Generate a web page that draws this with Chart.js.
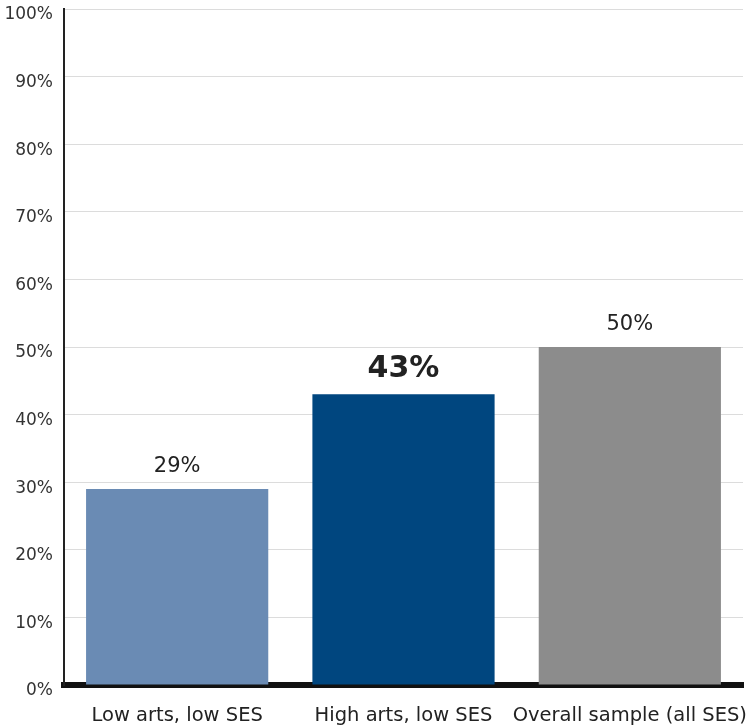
<!DOCTYPE html>
<html>
<head>
<meta charset="utf-8">
<script src="https://cdn.jsdelivr.net/npm/chart.js@4"></script>
<style>
    html, body { margin: 0; padding: 0; background: #fff; }
    #wrap { width: 747px; height: 726px; }
</style>
</head>
<body>
<div id="wrap"><canvas id="chart"></canvas></div>
<script>
// --- chart data ---
const categories = ['Low arts, low SES', 'High arts, low SES', 'Overall sample (all SES)'];
const values = [29, 43, 50];
const barColors = ['#6a8bb4', '#00467f', '#8c8c8c'];
const yTicks = [0, 10, 20, 30, 40, 50, 60, 70, 80, 90, 100];
const highlightIndex = 1;

const fontFamily = '"DejaVu Sans", sans-serif';

// draws the percentage above each bar
const barLabels = {
    id: 'barLabels',
    afterDatasetsDraw(chart) {
        const ctx = chart.ctx;
        const meta = chart.getDatasetMeta(0);
        ctx.save();
        ctx.textAlign = 'center';
        ctx.textBaseline = 'middle';
        ctx.fillStyle = '#222';
        meta.data.forEach((bar, i) => {
            const bold = i === highlightIndex;
            ctx.font = (bold ? 'bold 30px ' : '21px ') + fontFamily;
            ctx.fillText(values[i] + '%', bar.x, bar.y - (bold ? 25 : 22));
        });
        ctx.restore();
    }
};

new Chart(document.getElementById('chart').getContext('2d'), {
    type: 'bar',
    data: {
        labels: categories,
        datasets: [{
            data: values,
            backgroundColor: barColors,
            borderWidth: 0,
            barPercentage: 0.805,
            categoryPercentage: 1
        }]
    },
    options: {
        responsive: true,
        maintainAspectRatio: false,
        animation: false,
        layout: { padding: { left: 0, right: 4, top: 9, bottom: 0 } },
        plugins: {
            legend: { display: false },
            tooltip: { enabled: false }
        },
        scales: {
            x: {
                grid: { display: false, drawTicks: false },
                border: { display: true, color: '#111', width: 6 },
                ticks: {
                    color: '#222',
                    padding: 19,
                    maxRotation: 0,
                    autoSkip: false,
                    font: { family: fontFamily, size: 19.5 }
                },
                afterFit(scale) {
                    scale.height = 41;
                    scale.paddingLeft = 0;
                    scale.paddingRight = 0;
                }
            },
            y: {
                min: 0,
                max: 100,
                afterBuildTicks(scale) {
                    scale.ticks = yTicks.map(v => ({ value: v }));
                },
                grid: { color: '#dcdcdc', lineWidth: 1, drawTicks: false },
                border: { display: true, color: '#222', width: 2 },
                ticks: {
                    color: '#333',
                    padding: 11,
                    labelOffset: 6,
                    font: { family: fontFamily, size: 17 },
                    callback: v => v + '%'
                },
                afterFit(scale) {
                    scale.width = 64;
                    scale.paddingTop = 0;
                    scale.paddingBottom = 0;
                }
            }
        }
    },
    plugins: [barLabels]
});
</script>
</body>
</html>
